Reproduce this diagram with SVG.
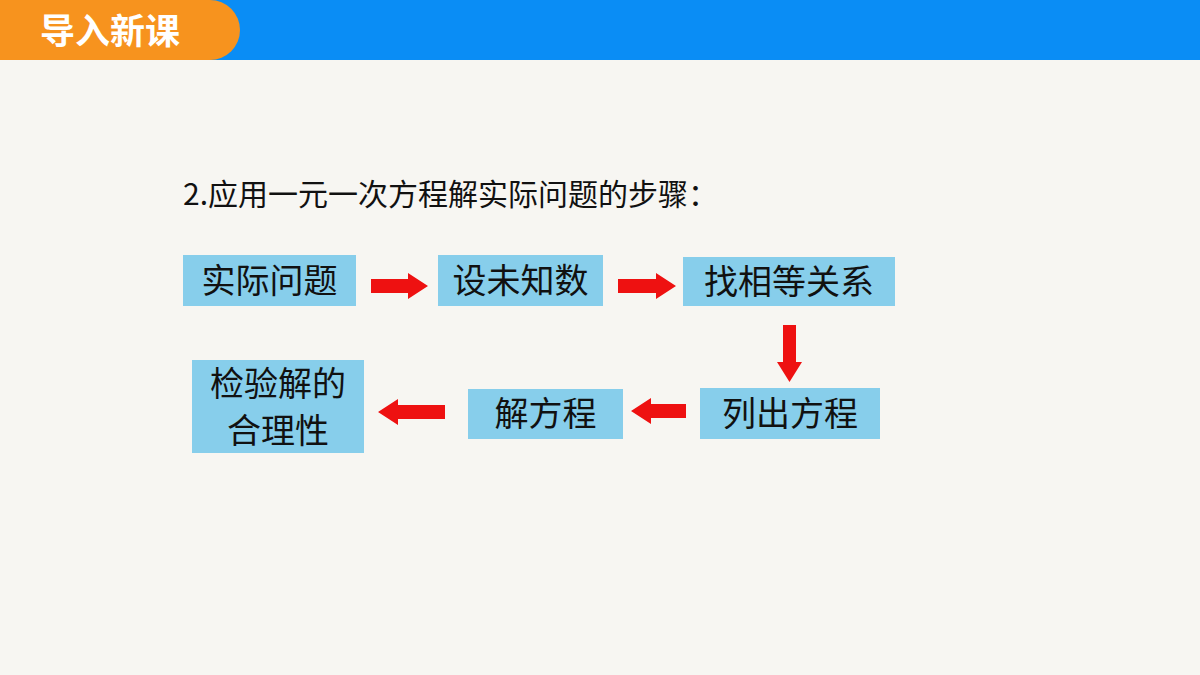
<svg xmlns="http://www.w3.org/2000/svg" width="1200" height="675" viewBox="0 0 1200 675">
<style>
.box{fill:#87CEEB}
.t{font-family:"Noto Sans CJK SC","Noto Sans",sans-serif;font-size:34px;fill:#111;text-anchor:middle}
.ar{fill:#EE1111}
</style>
<rect width="1200" height="675" fill="#F7F6F2"/>
<rect width="1200" height="60" fill="#0A8DF5"/>
<path d="M0 0H210A30 30 0 0 1 240 30A30 30 0 0 1 210 60H0Z" fill="#F7931E"/>
<text x="40" y="44" font-family="Noto Sans CJK SC,sans-serif" font-weight="bold" font-size="35" fill="#fff">导入新课</text>
<text x="183" y="205" font-family="Noto Sans CJK SC,sans-serif" font-size="30" fill="#111">2.应用一元一次方程解实际问题的步骤：</text>
<g id="n1"><rect class="box" x="183" y="255" width="173" height="51"/><text class="t" x="269.5" y="293">实际问题</text></g>
<g id="n2"><rect class="box" x="438" y="255" width="165" height="51"/><text class="t" x="520.5" y="293">设未知数</text></g>
<g id="n3"><rect class="box" x="683" y="257" width="212" height="49"/><text class="t" x="789" y="294">找相等关系</text></g>
<g id="n4"><rect class="box" x="700" y="388" width="180" height="51"/><text class="t" x="790" y="426">列出方程</text></g>
<g id="n5"><rect class="box" x="468" y="389" width="155" height="50"/><text class="t" x="545.5" y="426">解方程</text></g>
<g id="n6"><rect class="box" x="192" y="360" width="172" height="93"/><text class="t" x="278" y="396">检验解的</text><text class="t" x="278" y="443">合理性</text></g>
<g id="connectors">
<polygon class="ar" points="371,279 408,279 408,273 428,286 408,299 408,293 371,293"/>
<polygon class="ar" points="618,279 656,279 656,273 676,286 656,299 656,293 618,293"/>
<polygon class="ar" points="783,325 796,325 796,362 802,362 789.5,382 777,362 783,362"/>
<polygon class="ar" points="686,404 651,404 651,398 631,411 651,424 651,418 686,418"/>
<polygon class="ar" points="445,405 398,405 398,399 378,412 398,425 398,419 445,419"/>
</g>
</svg>
